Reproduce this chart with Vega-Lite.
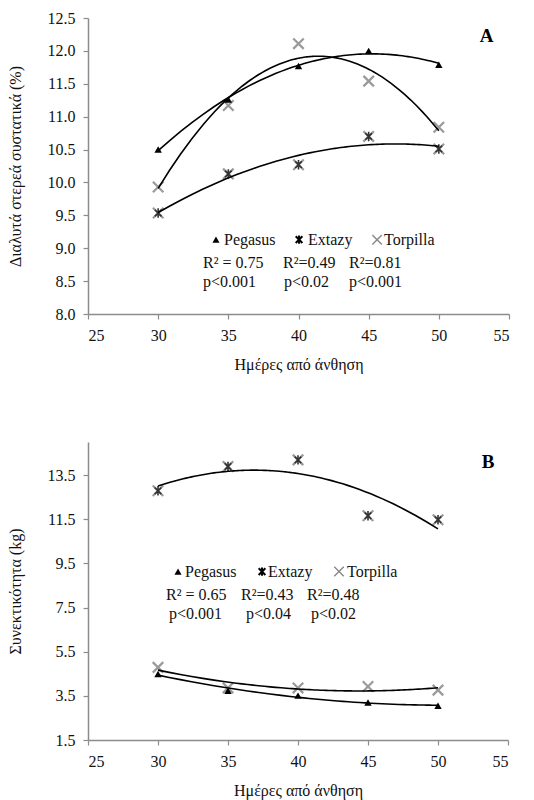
{
  "$schema": "https://vega.github.io/schema/vega-lite/v6.json",
  "padding": {"left": 7, "top": 10, "right": 5, "bottom": 5},
  "background": "white",
  "config": {
    "view": {"stroke": null},
    "axis": {
      "grid": false,
      "domainColor": "#8c8c8c",
      "tickColor": "#8c8c8c",
      "domainWidth": 1.5,
      "tickWidth": 1.2,
      "tickSize": 5,
      "labelColor": "#111",
      "titleColor": "#111",
      "labelFont": "Liberation Serif",
      "titleFont": "Liberation Serif",
      "labelFontSize": 16,
      "titleFontSize": 16,
      "titleFontWeight": "normal"
    }
  },
  "datasets": {
    "A": [
      {"day": 30, "series": "Pegasus", "value": 10.5},
      {"day": 35, "series": "Pegasus", "value": 11.26},
      {"day": 40, "series": "Pegasus", "value": 11.77},
      {"day": 45, "series": "Pegasus", "value": 12.0},
      {"day": 50, "series": "Pegasus", "value": 11.79},
      {"day": 30, "series": "Extazy", "value": 9.535},
      {"day": 35, "series": "Extazy", "value": 10.13},
      {"day": 40, "series": "Extazy", "value": 10.27},
      {"day": 45, "series": "Extazy", "value": 10.7},
      {"day": 50, "series": "Extazy", "value": 10.51},
      {"day": 30, "series": "Torpilla", "value": 9.93},
      {"day": 35, "series": "Torpilla", "value": 11.17},
      {"day": 40, "series": "Torpilla", "value": 12.11},
      {"day": 45, "series": "Torpilla", "value": 11.54},
      {"day": 50, "series": "Torpilla", "value": 10.84}
    ],
    "B": [
      {"day": 30, "series": "Pegasus", "value": 4.49},
      {"day": 35, "series": "Pegasus", "value": 3.73},
      {"day": 40, "series": "Pegasus", "value": 3.51},
      {"day": 45, "series": "Pegasus", "value": 3.2},
      {"day": 50, "series": "Pegasus", "value": 3.05},
      {"day": 30, "series": "Extazy", "value": 12.79},
      {"day": 35, "series": "Extazy", "value": 13.89},
      {"day": 40, "series": "Extazy", "value": 14.19},
      {"day": 45, "series": "Extazy", "value": 11.66},
      {"day": 50, "series": "Extazy", "value": 11.48},
      {"day": 30, "series": "Torpilla", "value": 4.79},
      {"day": 35, "series": "Torpilla", "value": 3.86},
      {"day": 40, "series": "Torpilla", "value": 3.86},
      {"day": 45, "series": "Torpilla", "value": 3.92},
      {"day": 50, "series": "Torpilla", "value": 3.76}
    ],
    "keyA": [
      {"day": 34.12, "value": 9.13, "series": "Pegasus"},
      {"day": 40.04, "value": 9.13, "series": "Extazy"},
      {"day": 45.6, "value": 9.13, "series": "Torpilla"}
    ],
    "keyB": [
      {"day": 31.43, "value": 9.13, "series": "Pegasus"},
      {"day": 37.43, "value": 9.13, "series": "Extazy"},
      {"day": 42.93, "value": 9.13, "series": "Torpilla"}
    ],
    "notesA": [
      {"day": 34.69, "value": 9.13, "label": "Pegasus"},
      {"day": 40.68, "value": 9.13, "label": "Extazy"},
      {"day": 46.1, "value": 9.13, "label": "Torpilla"},
      {"day": 33.2, "value": 8.78, "label": "R² = 0.75"},
      {"day": 38.9, "value": 8.78, "label": "R²=0.49"},
      {"day": 43.6, "value": 8.78, "label": "R²=0.81"},
      {"day": 33.2, "value": 8.48, "label": "p<0.001"},
      {"day": 38.97, "value": 8.48, "label": "p<0.02"},
      {"day": 43.6, "value": 8.48, "label": "p<0.001"}
    ],
    "notesB": [
      {"day": 31.93, "value": 9.13, "label": "Pegasus"},
      {"day": 37.86, "value": 9.13, "label": "Extazy"},
      {"day": 43.5, "value": 9.13, "label": "Torpilla"},
      {"day": 30.57, "value": 8.08, "label": "R² = 0.65"},
      {"day": 35.93, "value": 8.08, "label": "R²=0.43"},
      {"day": 40.64, "value": 8.08, "label": "R²=0.48"},
      {"day": 30.79, "value": 7.22, "label": "p<0.001"},
      {"day": 36.29, "value": 7.22, "label": "p<0.04"},
      {"day": 40.93, "value": 7.22, "label": "p<0.02"}
    ],
    "panelA": [{"day": 53.4, "value": 12.22, "label": "A"}],
    "panelB": [{"day": 53.57, "value": 14.1, "label": "B"}]
  },
  "vconcat": [
    {
      "width": 421,
      "height": 296,
      "encoding": {
        "x": {"field": "day", "type": "quantitative",
              "scale": {"domain": [25, 55], "nice": false},
              "axis": {"values": [25, 30, 35, 40, 45, 50, 55], "title": "Ημέρες από άνθηση", "labelPadding": 8, "titlePadding": 13, "labelFont": "Liberation Serif", "titleFont": "Liberation Serif"}},
        "y": {"field": "value", "type": "quantitative",
              "scale": {"domain": [8, 12.5], "nice": false, "zero": false},
              "axis": {"values": [8, 8.5, 9, 9.5, 10, 10.5, 11, 11.5, 12, 12.5], "format": ".1f", "title": "Διαλυτά στερεά συστατικά (%)", "labelPadding": 8, "titlePadding": 24, "labelFont": "Liberation Serif", "titleFont": "Liberation Serif"}}
      },
      "layer": [
        {"data": {"name": "A"}, "transform": [{"filter": "datum.series === 'Extazy'"}],
         "mark": {"type": "point", "shape": "M-1,-1L1,1M1,-1L-1,1", "size": 110, "strokeWidth": 2.2, "color": "#9a9a9a", "opacity": 1}},
        {"data": {"name": "A"}, "transform": [{"filter": "datum.series === 'Extazy'"}],
         "mark": {"type": "point", "shape": "M-0.7,-0.7L0.7,0.7M0.7,-0.7L-0.7,0.7M0,-1L0,1", "size": 90, "strokeWidth": 1.6, "color": "#333", "opacity": 1}},
        {"data": {"name": "A"}, "transform": [{"filter": "datum.series === 'Torpilla'"}],
         "mark": {"type": "point", "shape": "M-1,-1L1,1M1,-1L-1,1", "size": 110, "strokeWidth": 2.2, "color": "#9a9a9a", "opacity": 1}},
        {"data": {"name": "A"}, "transform": [{"filter": "datum.series === 'Pegasus'"}],
         "mark": {"type": "point", "shape": "triangle-up", "size": 55, "filled": true, "color": "#000", "opacity": 1}},
        {"data": {"name": "A"},
         "transform": [{"regression": "value", "on": "day", "groupby": ["series"], "method": "poly", "order": 2, "extent": [30, 50]}],
         "mark": {"type": "line", "color": "#000", "strokeWidth": 1.6},
         "encoding": {"detail": {"field": "series"}}},
        {"data": {"name": "keyA"}, "transform": [{"filter": "datum.series === 'Pegasus'"}],
         "mark": {"type": "point", "shape": "triangle-up", "size": 50, "filled": true, "color": "#000", "opacity": 1}},
        {"data": {"name": "keyA"}, "transform": [{"filter": "datum.series === 'Extazy'"}],
         "mark": {"type": "point", "shape": "M-0.8,-0.8L0.8,0.8M0.8,-0.8L-0.8,0.8M0,-1L0,1", "size": 70, "strokeWidth": 2, "color": "#000", "opacity": 1}},
        {"data": {"name": "keyA"}, "transform": [{"filter": "datum.series === 'Torpilla'"}],
         "mark": {"type": "point", "shape": "M-1,-1L1,1M1,-1L-1,1", "size": 90, "strokeWidth": 1.4, "color": "#888", "opacity": 1}},
        {"data": {"name": "notesA"},
         "mark": {"type": "text", "align": "left", "baseline": "middle", "fontSize": 16, "color": "#111", "font": "Liberation Serif"},
         "encoding": {"text": {"field": "label"}}},
        {"data": {"name": "panelA"},
         "mark": {"type": "text", "align": "center", "baseline": "middle", "fontSize": 19, "fontWeight": "bold", "color": "#000", "font": "Liberation Serif"},
         "encoding": {"text": {"field": "label"}}}
      ]
    },
    {
      "width": 420,
      "height": 298,
      "encoding": {
        "x": {"field": "day", "type": "quantitative",
              "scale": {"domain": [25, 55], "nice": false},
              "axis": {"values": [25, 30, 35, 40, 45, 50, 55], "title": "Ημέρες από άνθηση", "labelPadding": 8, "titlePadding": 13, "labelFont": "Liberation Serif", "titleFont": "Liberation Serif"}},
        "y": {"field": "value", "type": "quantitative",
              "scale": {"domain": [1.5, 15], "nice": false, "zero": false},
              "axis": {"values": [1.5, 3.5, 5.5, 7.5, 9.5, 11.5, 13.5], "format": ".1f", "title": "Συνεκτικότητα (kg)", "labelPadding": 8, "titlePadding": 24, "labelFont": "Liberation Serif", "titleFont": "Liberation Serif"}}
      },
      "layer": [
        {"data": {"name": "B"}, "transform": [{"filter": "datum.series === 'Extazy'"}],
         "mark": {"type": "point", "shape": "M-1,-1L1,1M1,-1L-1,1", "size": 110, "strokeWidth": 2.2, "color": "#9a9a9a", "opacity": 1}},
        {"data": {"name": "B"}, "transform": [{"filter": "datum.series === 'Extazy'"}],
         "mark": {"type": "point", "shape": "M-0.7,-0.7L0.7,0.7M0.7,-0.7L-0.7,0.7M0,-1L0,1", "size": 90, "strokeWidth": 1.6, "color": "#333", "opacity": 1}},
        {"data": {"name": "B"}, "transform": [{"filter": "datum.series === 'Torpilla'"}],
         "mark": {"type": "point", "shape": "M-1,-1L1,1M1,-1L-1,1", "size": 110, "strokeWidth": 2.2, "color": "#9a9a9a", "opacity": 1}},
        {"data": {"name": "B"}, "transform": [{"filter": "datum.series === 'Pegasus'"}],
         "mark": {"type": "point", "shape": "triangle-up", "size": 55, "filled": true, "color": "#000", "opacity": 1}},
        {"data": {"name": "B"},
         "transform": [{"regression": "value", "on": "day", "groupby": ["series"], "method": "poly", "order": 2, "extent": [30, 50]}],
         "mark": {"type": "line", "color": "#000", "strokeWidth": 1.6},
         "encoding": {"detail": {"field": "series"}}},
        {"data": {"name": "keyB"}, "transform": [{"filter": "datum.series === 'Pegasus'"}],
         "mark": {"type": "point", "shape": "triangle-up", "size": 50, "filled": true, "color": "#000", "opacity": 1}},
        {"data": {"name": "keyB"}, "transform": [{"filter": "datum.series === 'Extazy'"}],
         "mark": {"type": "point", "shape": "M-0.8,-0.8L0.8,0.8M0.8,-0.8L-0.8,0.8M0,-1L0,1", "size": 70, "strokeWidth": 2, "color": "#000", "opacity": 1}},
        {"data": {"name": "keyB"}, "transform": [{"filter": "datum.series === 'Torpilla'"}],
         "mark": {"type": "point", "shape": "M-1,-1L1,1M1,-1L-1,1", "size": 90, "strokeWidth": 1.4, "color": "#888", "opacity": 1}},
        {"data": {"name": "notesB"},
         "mark": {"type": "text", "align": "left", "baseline": "middle", "fontSize": 16, "color": "#111", "font": "Liberation Serif"},
         "encoding": {"text": {"field": "label"}}},
        {"data": {"name": "panelB"},
         "mark": {"type": "text", "align": "center", "baseline": "middle", "fontSize": 19, "fontWeight": "bold", "color": "#000", "font": "Liberation Serif"},
         "encoding": {"text": {"field": "label"}}}
      ]
    }
  ],
  "spacing": 70
}
